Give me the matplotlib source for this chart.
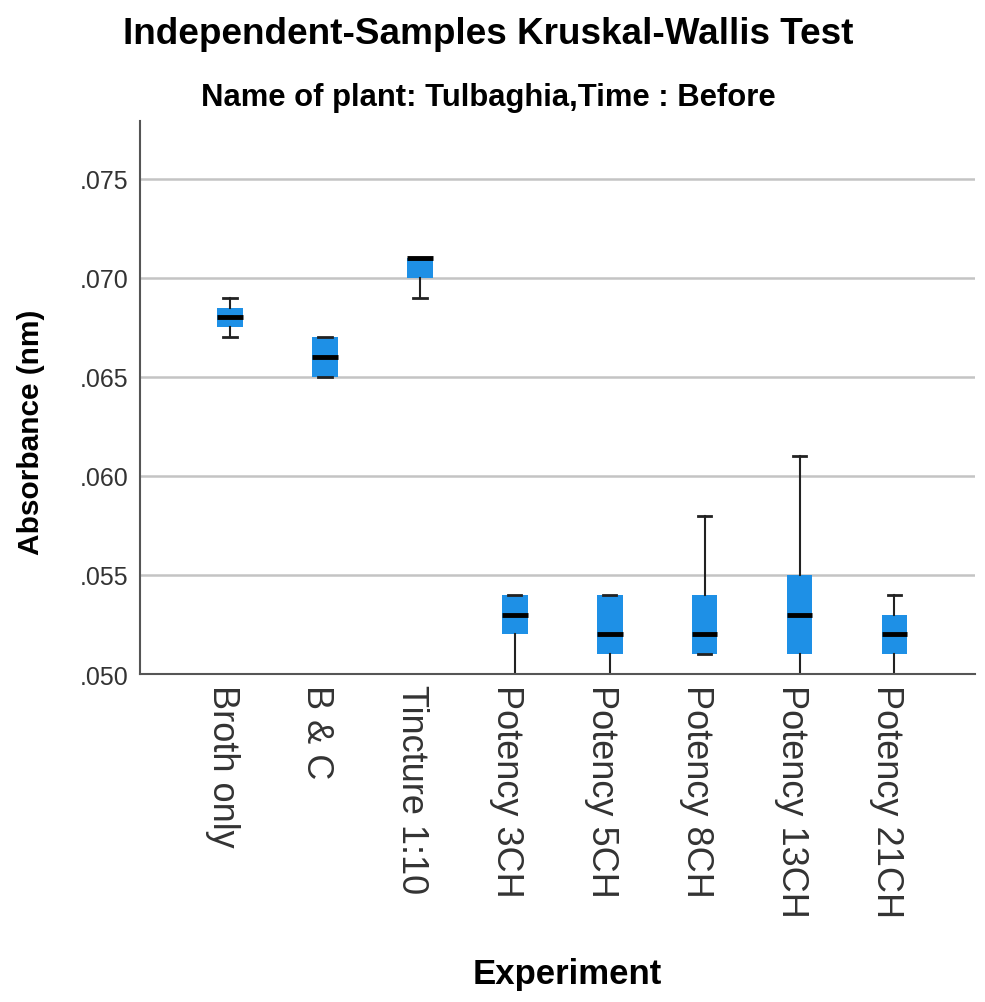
import matplotlib.pyplot as plt
import matplotlib.transforms as mtransforms
from matplotlib.ticker import FuncFormatter

plt.rcParams['font.family'] = ['Liberation Sans', 'DejaVu Sans']

groups = ["Broth only", "B & C", "Tincture 1:10", "Potency 3CH", "Potency 5CH",
          "Potency 8CH", "Potency 13CH", "Potency 21CH"]
whis_lo = [0.067, 0.065, 0.069, 0.050, 0.050, 0.051, 0.050, 0.050]
q1 = [0.0675, 0.065, 0.070, 0.052, 0.051, 0.051, 0.051, 0.051]
medians = [0.068, 0.066, 0.071, 0.053, 0.052, 0.052, 0.053, 0.052]
q3 = [0.0685, 0.067, 0.071, 0.054, 0.054, 0.054, 0.055, 0.053]
whis_hi = [0.069, 0.067, 0.071, 0.054, 0.054, 0.058, 0.061, 0.054]

stats = []
for name, lo, a, m, b, hi in zip(groups, whis_lo, q1, medians, q3, whis_hi):
    stats.append({"label": name, "whislo": lo, "q1": a, "med": m, "q3": b,
                  "whishi": hi, "fliers": []})

fig = plt.figure(figsize=(9.85, 10.03), dpi=100)
ax = fig.add_axes([0.142, 0.327, 0.848, 0.551])

ax.bxp(stats, positions=range(1, 9), widths=0.27, patch_artist=True,
       showfliers=False,
       boxprops=dict(facecolor="#1e90e6", edgecolor="#1e90e6", linewidth=0),
       medianprops=dict(color="black", linewidth=3.5),
       whiskerprops=dict(color="#222222", linewidth=1.5),
       capprops=dict(color="#222222", linewidth=2),
       capwidths=0.14)

ax.set_xlim(0.05, 8.85)
ax.set_ylim(0.050, 0.0779)
ax.set_yticks([0.050, 0.055, 0.060, 0.065, 0.070, 0.075])
ax.yaxis.set_major_formatter(FuncFormatter(lambda v, p: f"{v:.3f}".lstrip("0")))
ax.grid(axis="y", color="#c4c4c4", linewidth=1.8)
ax.set_axisbelow(True)

for s in ["top", "right"]:
    ax.spines[s].set_visible(False)
for s in ["left", "bottom"]:
    ax.spines[s].set_color("#555555")
    ax.spines[s].set_linewidth(1.5)

ax.tick_params(axis="y", length=0, labelsize=18, colors="#333333", pad=8)
ax.set_xticks(range(1, 9))
ax.set_xticklabels(groups, rotation=-90, fontsize=26, color="#333333")
ax.tick_params(axis="x", length=0, pad=7)

# nudge the rotated category labels a little to the left of their ticks
shift = mtransforms.ScaledTranslation(-0.08, 0, fig.dpi_scale_trans)
for lab in ax.get_xticklabels():
    lab.set_transform(lab.get_transform() + shift)

# axis titles placed directly in figure coordinates
fig.text(31 / 985, 1 - 432 / 1003, "Absorbance (nm)", rotation=90, ha="center",
         va="center", fontsize=21.5, fontweight="bold")
fig.text(567 / 985, 1 - 975 / 1003, "Experiment", ha="center", va="center",
         fontsize=25, fontweight="bold")

fig.text(0.496, 0.966, "Independent-Samples Kruskal-Wallis Test", ha="center",
         va="center", fontsize=26.6, fontweight="bold")
fig.text(0.496, 0.902, "Name of plant: Tulbaghia,Time : Before", ha="center",
         va="center", fontsize=22.3, fontweight="bold")

fig.savefig("out.png", dpi=100)
